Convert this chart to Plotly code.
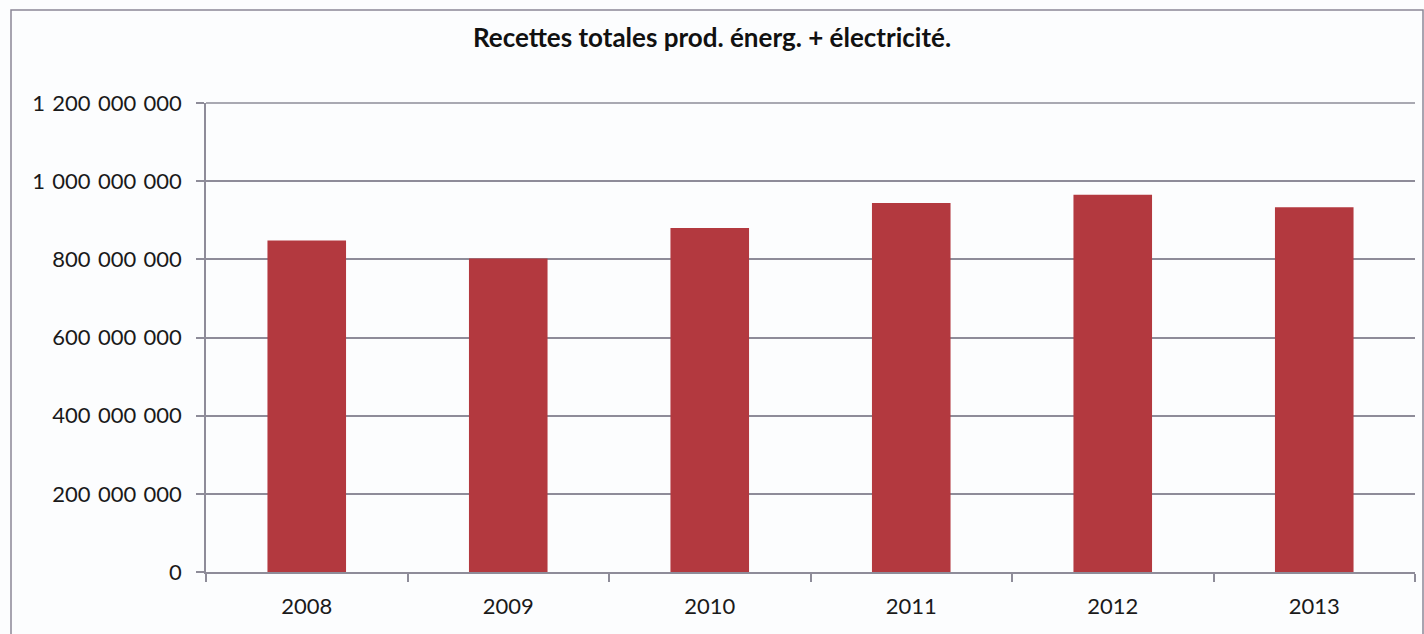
import plotly.graph_objects as go

years = ["2008", "2009", "2010", "2011", "2012", "2013"]
recettes = [848_000_000, 802_000_000, 880_000_000, 944_000_000, 965_000_000, 933_000_000]
y_ticks = [0, 200_000_000, 400_000_000, 600_000_000, 800_000_000, 1_000_000_000, 1_200_000_000]
title_text = "Recettes totales prod. énerg. + électricité."

W, H = 1424, 634
L, R, T, B = 206, 9, 103, 62
pw, ph = W - L - R, H - T - B

fig = go.Figure()
fig.add_trace(go.Bar(
    x=years, y=recettes,
    marker=dict(color="#B3393F", line=dict(width=0)),
    width=0.39,
))

grid_col = "#8E8C99"
fig.update_layout(
    width=W, height=H,
    margin=dict(l=L, r=R, t=T, b=B),
    paper_bgcolor="#FCFDFE",
    plot_bgcolor="#FCFDFE",
    separators=",\u2004",
    font=dict(family="Lato, Carlito, sans-serif", size=22, color="#1a1a1a"),
    showlegend=False,
    title=dict(
        text="<b>" + title_text + "</b>",
        x=0.5, xref="container", xanchor="center",
        y=1 - 38 / H, yref="container", yanchor="middle",
        font=dict(size=26, color="#111111"),
    ),
    xaxis=dict(
        type="category",
        showgrid=False,
        showline=True, linecolor=grid_col, linewidth=1.5,
        ticks="outside", tickson="boundaries", ticklen=8, tickcolor=grid_col, tickwidth=1.5,
        ticklabelstandoff=14,
    ),
    yaxis=dict(
        range=[0, 1_200_000_000],
        tickvals=y_ticks,
        tickformat=",d",
        showgrid=True, gridcolor=grid_col, gridwidth=1.5,
        showline=True, linecolor=grid_col, linewidth=1.5,
        ticks="outside", ticklen=8, tickcolor=grid_col, tickwidth=1.5,
        ticklabelstandoff=10,
        zeroline=False,
    ),
    shapes=[
        dict(
            type="rect", xref="paper", yref="paper",
            x0=(11 - L) / pw, x1=(1423 - L) / pw,
            y0=-(H + 10 - (H - B)) / ph, y1=(H - B - 10) / ph,
            line=dict(color="#8A8796", width=1.5), fillcolor="rgba(0,0,0,0)",
            layer="below",
        ),
        dict(
            type="line", xref="paper", yref="paper",
            x0=0, x1=1, y0=1, y1=1,
            line=dict(color=grid_col, width=1.5), layer="below",
        ),
    ],
)

fig.write_html(
    "out.html",
    config={"displayModeBar": False},
    post_script="document.body.style.margin='0';document.body.style.overflow='hidden';",
)
